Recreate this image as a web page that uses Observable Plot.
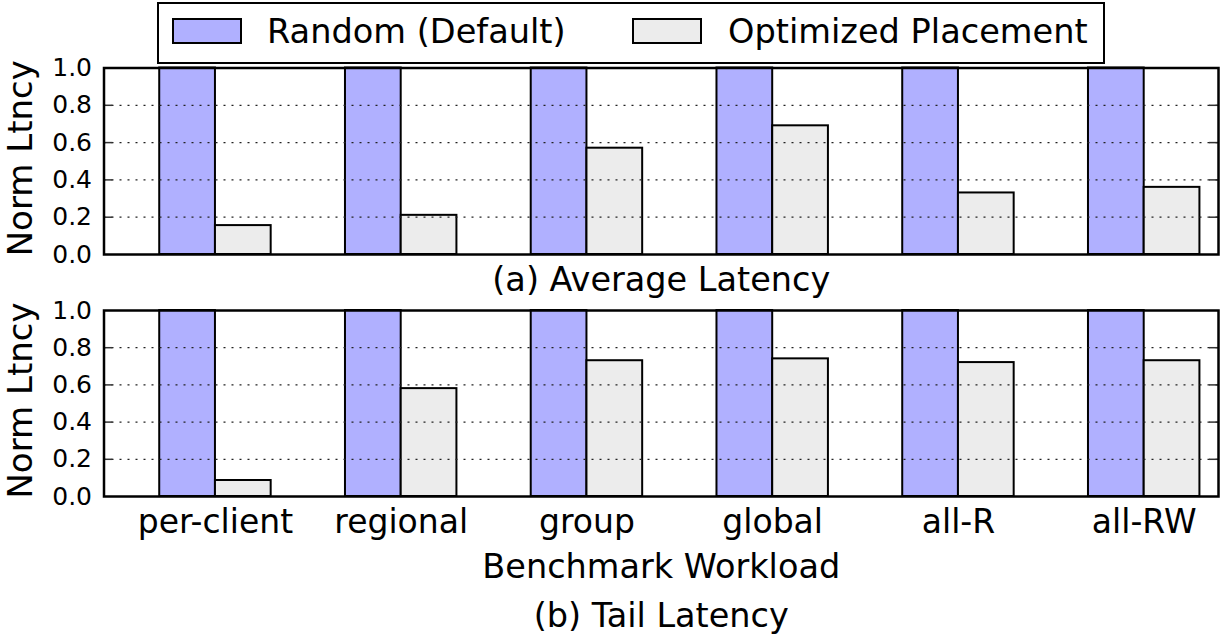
<!DOCTYPE html>
<html>
<head>
<meta charset="utf-8">
<script src="https://cdn.jsdelivr.net/npm/d3@7"></script>
<script src="https://cdn.jsdelivr.net/npm/@observablehq/plot@0.6"></script>
<style>
html, body { margin: 0; padding: 0; background: #fff; }
#wrap { position: relative; width: 1225px; height: 634px; overflow: hidden; font-family: "DejaVu Sans", sans-serif; }
#wrap svg { position: absolute; left: 0; }
.legend { position: absolute; left: 157px; top: 2px; width: 944px; height: 58px; border: 2px solid #000; background: #fff; z-index: 5; }
.sw { position: absolute; top: 14px; width: 66px; height: 22px; border: 2px solid #000; }
.lt { position: absolute; top: 11.2px; font-size: 33.6px; line-height: 33.6px; white-space: nowrap; color: #000; }
</style>
</head>
<body>
<div id="wrap">
  <div class="legend" id="legend"></div>
</div>
<script>
// ---- data ----
const categories = ["per-client", "regional", "group", "global", "all-R", "all-RW"];
const seriesNames = ["Random (Default)", "Optimized Placement"];
const seriesColors = ["#b0b0ff", "#ececec"];
const avgRandom = [1.0, 1.0, 1.0, 1.0, 1.0, 1.0];
const avgOptimized = [0.155, 0.21, 0.57, 0.69, 0.33, 0.36];
const tailRandom = [1.0, 1.0, 1.0, 1.0, 1.0, 1.0];
const tailOptimized = [0.086, 0.58, 0.73, 0.74, 0.72, 0.73];
const yTicks = [0.0, 0.2, 0.4, 0.6, 0.8, 1.0];
const gridValues = [0.2, 0.4, 0.6, 0.8];
const yLabel = "Norm Ltncy";
const xLabel = "Benchmark Workload";
const captionA = "(a) Average Latency";
const captionB = "(b) Tail Latency";

// ---- layout ----
const WIDTH = 1225, ML = 103.5, MR = 7;
const PW = WIDTH - ML - MR;
const OFFSET = 0.3, BAR = 0.3;

function rows(random, optimized) {
  return categories.flatMap((c, i) => [
    {cat: c, i, k: 0, series: seriesNames[0], value: random[i]},
    {cat: c, i, k: 1, series: seriesNames[1], value: optimized[i]}
  ]);
}

function panel({data, height, marginTop, marginBottom, showX, texts}) {
  const marks = [
    Plot.rectY(data, {
      x1: d => d.i + OFFSET + d.k * BAR,
      x2: d => d.i + OFFSET + (d.k + 1) * BAR,
      y1: 0, y2: "value", fill: "series", stroke: "#000", strokeWidth: 2
    }),
    Plot.ruleY(gridValues, {stroke: "#222", strokeWidth: 1.2, strokeDasharray: "2,6"}),
    Plot.tickY(gridValues, {stroke: "#333", strokeWidth: 1.5, insetRight: PW - 9}),
    Plot.tickY(gridValues, {stroke: "#333", strokeWidth: 1.5, insetLeft: PW - 9}),
    Plot.frame({stroke: "#000", strokeWidth: 2.5}),
    Plot.axisY({ticks: yTicks, tickSize: 0, tickPadding: 12, tickFormat: d3.format(".1f"), fontSize: 25, label: null}),
    Plot.text([yLabel], {text: d => d, frameAnchor: "left", textAnchor: "middle", lineAnchor: "middle", rotate: -90, dx: -82.7, dy: -3, fontSize: 34})
  ];
  if (showX) {
    marks.push(Plot.axisX({
      ticks: categories.map((c, i) => i + OFFSET + BAR),
      tickFormat: d => categories[Math.round(d - OFFSET - BAR)],
      tickSize: 0, tickPadding: 13, fontSize: 33, label: null
    }));
  }
  for (const t of texts) {
    marks.push(Plot.text([t.text], {text: d => d, frameAnchor: "bottom", textAnchor: "middle", lineAnchor: "bottom", dy: t.dy, fontSize: 33.5}));
  }
  return Plot.plot({
    width: WIDTH, height, marginLeft: ML, marginRight: MR, marginTop, marginBottom,
    style: {fontFamily: "DejaVu Sans, sans-serif", color: "#000", background: "transparent", overflow: "visible"},
    x: {domain: [0, categories.length], axis: showX ? undefined : null},
    y: {domain: [0, 1]},
    color: {domain: seriesNames, range: seriesColors},
    marks
  });
}

const wrap = document.getElementById("wrap");
const top1 = panel({
  data: rows(avgRandom, avgOptimized), height: 300, marginTop: 67.5, marginBottom: 46,
  showX: false, texts: [{text: captionA, dy: 36}]
});
top1.style.top = "0px";
wrap.appendChild(top1);

const bot = panel({
  data: rows(tailRandom, tailOptimized), height: 344, marginTop: 20, marginBottom: 138,
  showX: true, texts: [{text: xLabel, dy: 81.7}, {text: captionB, dy: 130.7}]
});
bot.style.top = "290px";
wrap.appendChild(bot);

// ---- legend ----
const legend = document.getElementById("legend");
const swLeft = [12.7, 473.3], txLeft = [108, 569];
seriesNames.forEach((name, i) => {
  const sw = document.createElement("div");
  sw.className = "sw";
  sw.style.left = swLeft[i] + "px";
  sw.style.background = seriesColors[i];
  legend.appendChild(sw);
  const tx = document.createElement("div");
  tx.className = "lt";
  tx.style.left = txLeft[i] + "px";
  tx.textContent = name;
  legend.appendChild(tx);
});
</script>
</body>
</html>
